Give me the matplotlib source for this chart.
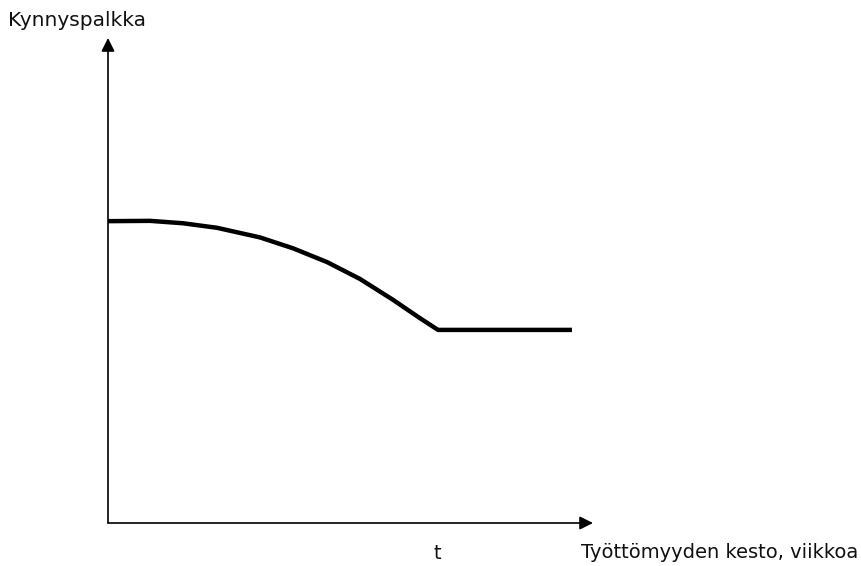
import matplotlib
matplotlib.use("Agg")
import matplotlib.pyplot as plt

# Curve data (x in arbitrary week units, t = 10; y = threshold wage, arbitrary units)
curve_x = [0.0, 1.28, 2.28, 3.31, 4.62, 5.62, 6.66, 7.66, 8.66, 9.48, 10.03, 14.1]
curve_y = [100.2, 100.3, 99.5, 98.0, 94.8, 91.2, 86.6, 81.0, 74.1, 68.0, 64.1, 64.1]
t_value = 10.0
x_max = 14.74
y_max = 161.0

ylabel = "Kynnyspalkka"
xlabel = "Työttömyyden kesto, viikkoa"
t_label = "t"

W, H = 861, 566
fig = plt.figure(figsize=(W / 100, H / 100), dpi=100)
fig.patch.set_facecolor("white")

x0, y0 = 108, 523
ax = fig.add_axes([x0 / W, (H - y0) / H, 485 / W, 485 / H])
ax.set_xlim(0, x_max)
ax.set_ylim(0, y_max)
ax.axis("off")

ax.plot(curve_x, curve_y, color="black", lw=3.2, solid_capstyle="butt", solid_joinstyle="round", clip_on=False)

# Axes with arrows
ax.annotate("", xy=(x_max, 0), xytext=(0, 0),
            arrowprops=dict(arrowstyle="-|>", color="black", lw=1.2, mutation_scale=20, shrinkA=0, shrinkB=0),
            annotation_clip=False)
ax.annotate("", xy=(0, y_max), xytext=(0, 0),
            arrowprops=dict(arrowstyle="-|>", color="black", lw=1.2, mutation_scale=20, shrinkA=0, shrinkB=0),
            annotation_clip=False)

font = "DejaVu Sans"
fig.text(8 / W, 1 - 20 / H, ylabel, ha="left", va="center", fontsize=14.5, family=font, color="#111111")
ax.text(t_value, -10, t_label, ha="center", va="center", fontsize=14, family=font, color="#111111", clip_on=False)
fig.text(858 / W, 1 - 553 / H, xlabel, ha="right", va="center", fontsize=14, family=font, color="#111111")

fig.savefig("out.png", dpi=100)
